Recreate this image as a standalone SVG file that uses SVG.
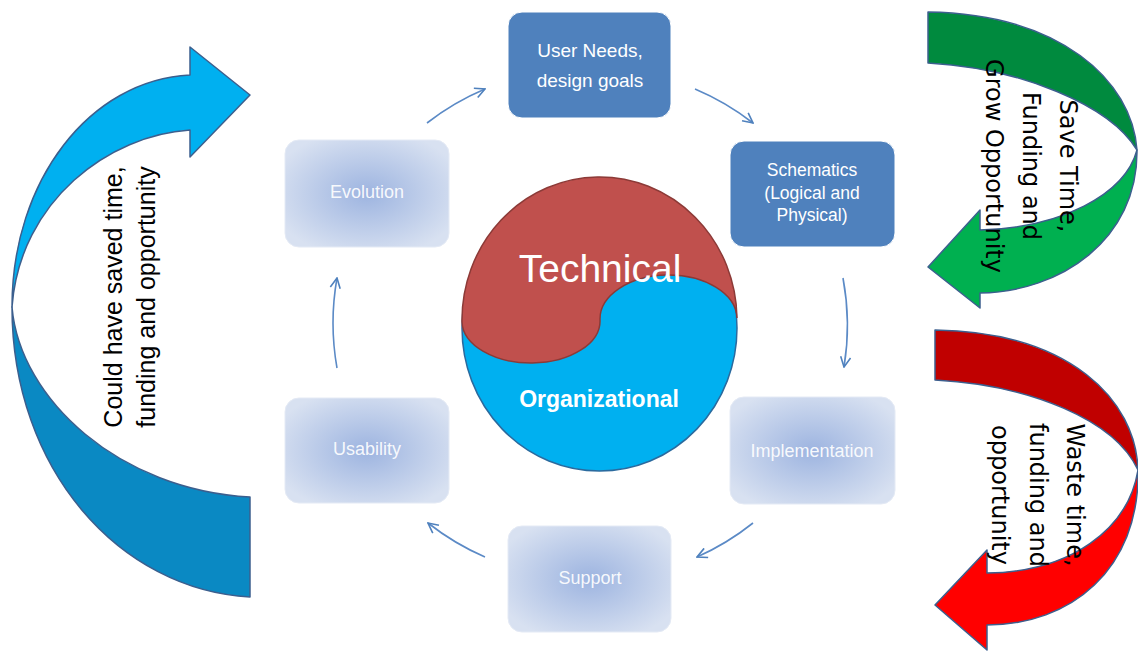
<svg xmlns="http://www.w3.org/2000/svg" width="1138" height="652" viewBox="0 0 1138 652">
<defs>
<radialGradient id="fade" cx="50%" cy="50%" r="60%">
<stop offset="0" stop-color="#9DB4E0"/>
<stop offset="1" stop-color="#D8E1F1"/>
</radialGradient>
<marker id="ah" viewBox="0 0 12 12" refX="11" refY="6" markerWidth="12" markerHeight="12" markerUnits="userSpaceOnUse" orient="auto">
<path d="M1,1 L11,6 L1,11" fill="none" stroke="#4F81BD" stroke-width="1.6"/>
</marker>
<style>
.solid{fill:#4F81BD;stroke:#FFFFFF;stroke-width:1}
.faded{fill:url(#fade);stroke:#E4EAF5;stroke-width:1}
.nt{font-family:"Liberation Sans",Arial,sans-serif;fill:#FFFFFF;text-anchor:middle}
.ft{font-family:"Liberation Sans",Arial,sans-serif;fill:#FFFFFF;fill-opacity:0.92;text-anchor:middle;font-size:18px}
.conn{fill:none;stroke:#5B8AC6;stroke-width:1.6;marker-end:url(#ah)}
.big{stroke:#3C5F8E;stroke-width:1.5;stroke-linejoin:round}
.at{font-family:"DejaVu Sans",Verdana,sans-serif;font-size:24px;fill:#000000;text-anchor:middle}
.lt{font-family:"Liberation Sans",Arial,sans-serif;font-size:25px;fill:#000000;text-anchor:middle}
</style>
</defs>
<rect width="1138" height="652" fill="#FFFFFF"/>

<g id="left-arrow">
<path class="big" fill="#0A89C3" d="M250,497 L250,597 C120,590 12,470 12,307 C20,400 120,490 250,497 Z"/>
<path class="big" fill="#00B0F0" d="M190,75 C90,80 12,180 12,307 C20,200 110,135 190,130 L190,157 L250,95 L190,47 Z"/>
<text class="lt" transform="translate(122,297) rotate(-90)">Could have saved time,</text>
<text class="lt" transform="translate(155,297) rotate(-90)">funding and opportunity</text>
</g>

<g id="green-arrow">
<path class="big" fill="#008A3E" d="M928,12 C1060,14 1132,80 1137,150 C1110,105 1020,68 928,63 Z"/>
<path class="big" fill="#00B050" d="M1137,150 C1125,195 1060,228 980,230 L980,210 L928,267 L980,308 L980,293 C1060,292 1138,240 1137,150 Z"/>
<text class="at" transform="translate(1060,166) rotate(90)">Save Time,</text>
<text class="at" transform="translate(1023,166) rotate(90)">Funding and</text>
<text class="at" transform="translate(986,166) rotate(90)">Grow Opportunity</text>
</g>

<g id="red-arrow">
<path class="big" fill="#C00000" d="M935,330 C1070,332 1136,400 1138,470 C1115,420 1030,385 935,380 Z"/>
<path class="big" fill="#FF0000" d="M1138,470 C1128,530 1070,572 987,573 L987,550 L935,605 L987,650 L987,625 C1070,625 1140,570 1138,470 Z"/>
<text class="at" transform="translate(1067,495) rotate(90)">Waste time,</text>
<text class="at" transform="translate(1030,495) rotate(90)">funding and</text>
<text class="at" transform="translate(992,495) rotate(90)">opportunity</text>
</g>

<g id="center">
<ellipse cx="599.5" cy="328" rx="137.5" ry="143" fill="#00B0F0" stroke="#2A6A9E" stroke-width="1.5"/>
<path d="M462,322 A69,42 0 0,0 600,320 A68.5,44 0 0,1 737,318 A137.5,143 0 0,0 462,322 Z" fill="#C0504D" stroke="#8C3A37" stroke-width="1.5"/>
<text x="600" y="282" font-family="Liberation Sans, Arial, sans-serif" font-size="39" fill="#FFFFFF" text-anchor="middle">Technical</text>
<text x="599" y="407" font-family="Liberation Sans, Arial, sans-serif" font-size="23" font-weight="bold" fill="#FFFFFF" text-anchor="middle">Organizational</text>
</g>

<g id="node-user-needs">
<rect class="solid" x="508" y="12" width="163" height="106" rx="14"/>
<text class="nt" x="590" y="57" font-size="19">User Needs,</text>
<text class="nt" x="590" y="87" font-size="19">design goals</text>
</g>
<g id="node-schematics">
<rect class="solid" x="730" y="141" width="165" height="106" rx="14"/>
<text class="nt" x="812" y="176" font-size="17.5">Schematics</text>
<text class="nt" x="812" y="199" font-size="17.5">(Logical and</text>
<text class="nt" x="812" y="221" font-size="17.5">Physical)</text>
</g>
<g id="node-implementation">
<rect class="faded" x="730" y="397" width="165" height="107" rx="14"/>
<text class="ft" x="812" y="457">Implementation</text>
</g>
<g id="node-support">
<rect class="faded" x="508" y="526" width="163" height="106" rx="14"/>
<text class="ft" x="590" y="584">Support</text>
</g>
<g id="node-usability">
<rect class="faded" x="285" y="398" width="164" height="105" rx="14"/>
<text class="ft" x="367" y="455">Usability</text>
</g>
<g id="node-evolution">
<rect class="faded" x="285" y="140" width="164" height="107" rx="14"/>
<text class="ft" x="367" y="198">Evolution</text>
</g>

<g id="connectors">
<path class="conn" d="M427,123 A257,257 0 0,1 485,89"/>
<path class="conn" d="M695,89 A257,257 0 0,1 753,123"/>
<path class="conn" d="M843,278 A257,257 0 0,1 844,367"/>
<path class="conn" d="M753,523 A257,257 0 0,1 697,557"/>
<path class="conn" d="M485,557 A257,257 0 0,1 428,523"/>
<path class="conn" d="M337,368 A257,257 0 0,1 337,278"/>
</g>
</svg>
